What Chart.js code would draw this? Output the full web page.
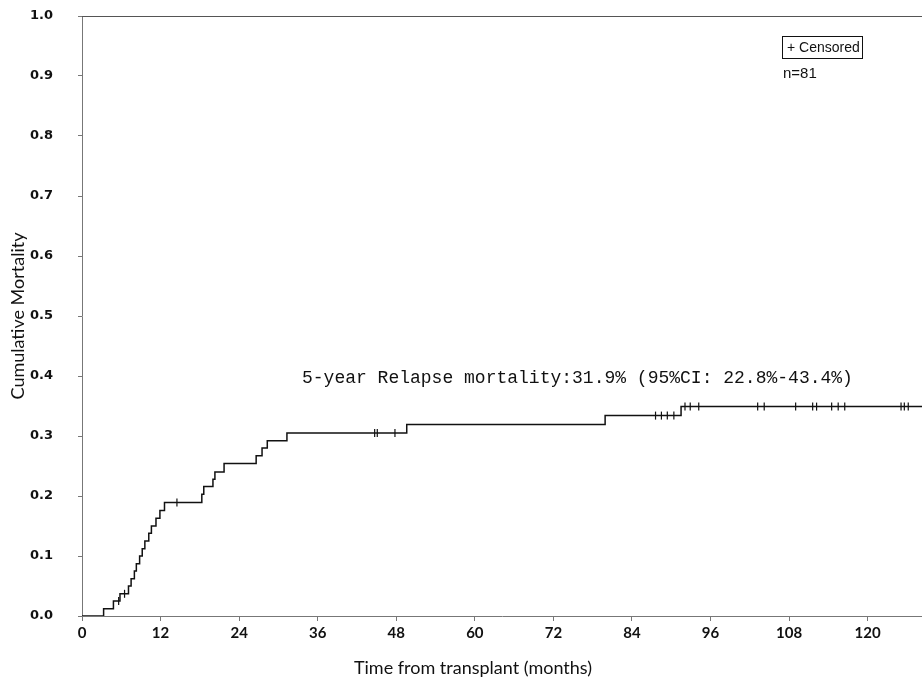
<!DOCTYPE html>
<html>
<head>
<meta charset="utf-8">
<script src="https://cdn.jsdelivr.net/npm/chart.js@4.4.0/dist/chart.umd.min.js"></script>
<style>
  html, body { margin: 0; padding: 0; background: #fff; }
  #wrap { width: 922px; height: 682px; position: relative; }
</style>
</head>
<body>
<div id="wrap"><canvas id="c" width="922" height="682"></canvas></div>
<script>
// Event times (months) and cumulative mortality after each event
const eventTimes = [0, 3.3, 4.8, 5.8, 7.1, 7.5, 8.0, 8.3, 8.8, 9.2, 9.6, 10.2, 10.6, 11.3, 11.9, 12.6,
                    18.3, 18.6, 20.0, 20.3, 21.7, 26.6, 27.5, 28.3, 31.3, 49.6, 79.9, 91.5, 128.3];
const cumMortality = [0, 0.012, 0.025, 0.037, 0.050, 0.062, 0.075, 0.087, 0.100, 0.112, 0.125, 0.138, 0.150, 0.163, 0.176, 0.189,
                      0.203, 0.216, 0.228, 0.240, 0.254, 0.267, 0.280, 0.292, 0.305, 0.319, 0.334, 0.349, 0.349];
// Censored observations
const censorTimes = [5.6, 6.5, 14.5, 44.7, 45.1, 47.8, 87.6, 88.5, 89.4, 90.4,
                     92.1, 92.9, 94.2, 103.2, 104.2, 109.0, 111.6, 112.2, 114.5, 115.5, 116.5, 125.1, 125.6, 126.2];
const censorValues = [0.025, 0.037, 0.189, 0.305, 0.305, 0.305, 0.334, 0.334, 0.334, 0.334,
                      0.349, 0.349, 0.349, 0.349, 0.349, 0.349, 0.349, 0.349, 0.349, 0.349, 0.349, 0.349, 0.349, 0.349];
const xTicks = [0, 12, 24, 36, 48, 60, 72, 84, 96, 108, 120];
const yTicks = [0, 0.1, 0.2, 0.3, 0.4, 0.5, 0.6, 0.7, 0.8, 0.9, 1.0];
const xTitle = 'Time from transplant (months)';
const yTitle = 'Cumulative Mortality';
const annotationText = '5-year Relapse mortality:31.9% (95%CI: 22.8%-43.4%)';
const legendText = '+ Censored';
const nText = 'n=81';

const stepData = eventTimes.map((t, i) => ({ x: t, y: cumMortality[i] }));
const censorData = censorTimes.map((t, i) => ({ x: t, y: censorValues[i] }));

const overlay = {
  id: 'overlay',
  afterDraw(chart) {
    const { ctx, chartArea } = chart;
    ctx.save();
    // top border
    ctx.strokeStyle = '#555';
    ctx.lineWidth = 1;
    ctx.beginPath();
    ctx.moveTo(chartArea.left, chartArea.top + 0.5);
    ctx.lineTo(chartArea.right, chartArea.top + 0.5);
    ctx.stroke();
    // axis titles
    ctx.fillStyle = '#111';
    ctx.textAlign = 'center';
    ctx.textBaseline = 'middle';
    ctx.font = '18px Lato, "Open Sans", sans-serif';
    ctx.fillText(xTitle, 473, 668);
    ctx.save();
    ctx.translate(18, 316);
    ctx.rotate(-Math.PI / 2);
    ctx.fillText(yTitle, 0, 0);
    ctx.restore();
    // annotation
    ctx.font = '18px "Liberation Mono", "DejaVu Sans Mono", monospace';
    ctx.textAlign = 'left';
    ctx.fillText(annotationText, 302, 378);
    // legend box
    ctx.strokeStyle = '#111';
    ctx.lineWidth = 1;
    ctx.strokeRect(782.5, 36.5, 80, 22);
    ctx.font = '14px "Liberation Sans", Arial, sans-serif';
    ctx.fillText(legendText, 787, 48);
    ctx.font = '15px "Liberation Sans", Arial, sans-serif';
    ctx.fillText(nText, 783, 74);
    ctx.restore();
  }
};

new Chart(document.getElementById('c'), {
  type: 'scatter',
  data: {
    datasets: [
      {
        type: 'line',
        data: stepData,
        stepped: 'before',
        borderColor: '#111',
        borderWidth: 1.5,
        pointRadius: 0,
        fill: false,
        order: 2
      },
      {
        type: 'scatter',
        data: censorData,
        pointStyle: 'line',
        rotation: 90,
        radius: 4,
        borderColor: '#111',
        borderWidth: 1.2,
        order: 1
      }
    ]
  },
  plugins: [overlay],
  options: {
    responsive: false,
    animation: false,
    layout: { autoPadding: false, padding: { top: 16, right: 0, left: 30, bottom: 0 } },
    plugins: { legend: { display: false }, tooltip: { enabled: false } },
    scales: {
      x: {
        type: 'linear',
        min: 0,
        max: 128.3,
        afterBuildTicks(axis) { axis.ticks = xTicks.map(v => ({ value: v })); },
        afterFit(axis) { axis.height = 66; },
        border: { display: true, color: '#777', width: 1 },
        grid: { display: true, drawOnChartArea: false, drawTicks: true, tickLength: 5, color: '#777' },
        ticks: {
          color: '#111',
          padding: 3,
          maxRotation: 0,
          autoSkip: false,
          font: { family: 'Lato, "Open Sans", sans-serif', size: 15, weight: 'bold' }
        },
        title: { display: false }
      },
      y: {
        type: 'linear',
        min: 0,
        max: 1,
        afterBuildTicks(axis) { axis.ticks = yTicks.map(v => ({ value: v })); },
        afterFit(axis) { axis.width = 52; },
        border: { display: true, color: '#777', width: 1 },
        grid: { display: true, drawOnChartArea: false, drawTicks: true, tickLength: 4, color: '#777' },
        ticks: {
          color: '#111',
          padding: 0,
          crossAlign: 'far',
          callback: v => v.toFixed(1),
          font: { family: '"DejaVu Sans", Verdana, sans-serif', size: 13, weight: 'bold' }
        },
        title: { display: false }
      }
    }
  }
});
</script>
</body>
</html>
